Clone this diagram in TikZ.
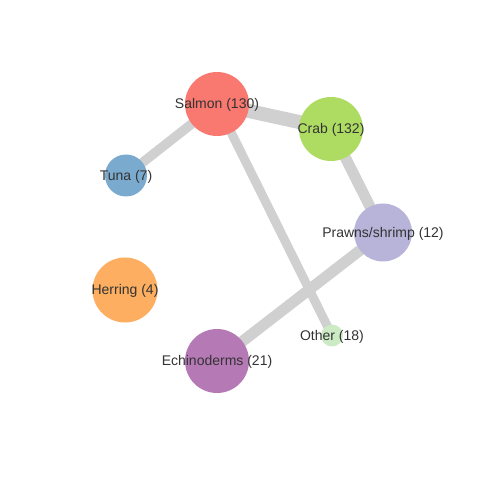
\documentclass[tikz,border=0pt]{standalone}
\usepackage{fontspec}
\setmainfont{Liberation Sans}
\begin{document}
\begin{tikzpicture}[x=1pt,y=1pt,
  edge/.style={draw=edgegray, line cap=butt},
  fish/.style={circle, inner sep=0pt, draw=none},
  lbl/.style={text=labelgray, font=\fontsize{14}{15}\selectfont, inner sep=0pt, yshift=-1pt}]
\definecolor{edgegray}{HTML}{D0D0D0}
\definecolor{labelgray}{HTML}{333333}
\definecolor{csalmon}{HTML}{F9786F}
\definecolor{ccrab}{HTML}{AEDC63}
\definecolor{ctuna}{HTML}{7BAACF}
\definecolor{cprawn}{HTML}{B8B3D8}
\definecolor{cherring}{HTML}{FDAE60}
\definecolor{cechino}{HTML}{B579B5}
\definecolor{cother}{HTML}{CCEBC5}
\fill[white] (0,0) rectangle (480,480);
\useasboundingbox (0,0) rectangle (480,480);
% node positions
\coordinate (salmon) at (217,376);
\coordinate (crab) at (331,351);
\coordinate (tuna) at (126,304.5);
\coordinate (prawn) at (383,247.5);
\coordinate (herring) at (125,190);
\coordinate (echino) at (217,119);
\coordinate (other) at (332,144.5);
% edges
\draw[edge, line width=14pt] (salmon) -- (crab);
\draw[edge, line width=9.5pt] (salmon) -- (tuna);
\draw[edge, line width=9pt] (salmon) -- (other);
\draw[edge, line width=11pt] (crab) -- (prawn);
\draw[edge, line width=11pt] (prawn) -- (echino);
% circles
\node[fish, fill=csalmon, minimum size=64pt] (nsalmon) at (salmon) {};
\node[fish, fill=ccrab, minimum size=64pt] (ncrab) at (crab) {};
\node[fish, fill=ctuna, minimum size=42pt] (ntuna) at (tuna) {};
\node[fish, fill=cprawn, minimum size=58pt] (nprawn) at (prawn) {};
\node[fish, fill=cherring, minimum size=65pt] (nherring) at (herring) {};
\node[fish, fill=cechino, minimum size=64pt] (nechino) at (echino) {};
\node[fish, fill=cother, minimum size=22pt] (nother) at (other) {};
% labels
\node[lbl] (lsalmon) at (salmon) {Salmon (130)};
\node[lbl] (lcrab) at (crab) {Crab (132)};
\node[lbl] (ltuna) at (tuna) {Tuna (7)};
\node[lbl] (lprawn) at (prawn) {Prawns/shrimp (12)};
\node[lbl] (lherring) at (herring) {Herring (4)};
\node[lbl] (lechino) at (echino) {Echinoderms (21)};
\node[lbl] (lother) at (other) {Other (18)};
\end{tikzpicture}
\end{document}
